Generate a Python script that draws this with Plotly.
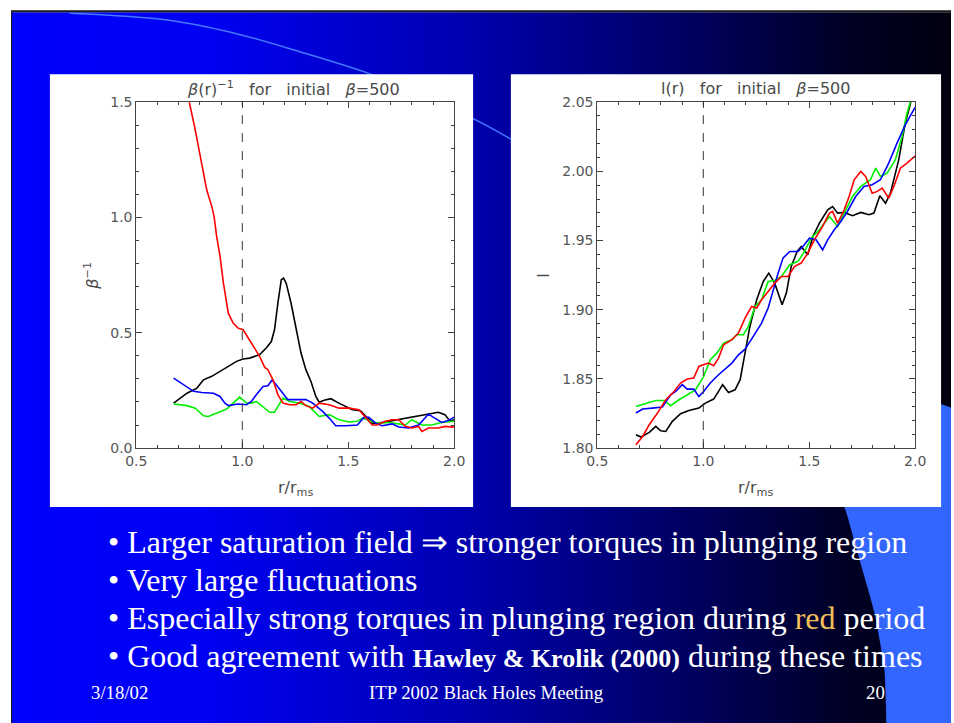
import plotly.graph_objects as go

OUT_W, OUT_H = 954, 723
# captured page region is [-8, OUT+8] scaled back to OUT size
SX, SY = OUT_W / (OUT_W + 16), OUT_H / (OUT_H + 16)
W, H = OUT_W + 8, OUT_H + 8  # figure size (body margin removed)

# ---------------- data: beta^-1 (left panel) ----------------
lb_red_x = [0.73, 0.75, 0.778, 0.809, 0.832, 0.856, 0.867, 0.879, 0.895, 0.911, 0.934, 0.957, 0.98, 1.004, 1.02,
            1.051, 1.082, 1.106, 1.121, 1.145, 1.168, 1.192, 1.223, 1.254, 1.277, 1.30, 1.332, 1.363, 1.41,
            1.457, 1.504, 1.55, 1.582, 1.613, 1.636, 1.675, 1.707, 1.738, 1.769, 1.80, 1.832, 1.847, 1.878,
            1.925, 1.956, 2.0]
lb_red_y = [1.62, 1.50, 1.38, 1.235, 1.12, 1.048, 1.004, 0.918, 0.831, 0.715, 0.585, 0.542, 0.52, 0.513, 0.49,
            0.44, 0.397, 0.35, 0.34, 0.296, 0.231, 0.195, 0.188, 0.188, 0.202, 0.184, 0.173, 0.195, 0.188,
            0.173, 0.173, 0.166, 0.13, 0.10, 0.10, 0.116, 0.123, 0.123, 0.094, 0.087, 0.094, 0.072, 0.087,
            0.087, 0.094, 0.091]

lb_black_x = [0.676, 0.739, 0.786, 0.817, 0.856, 0.895, 0.934, 0.973, 1.004, 1.035, 1.082, 1.113, 1.137, 1.152,
              1.168, 1.184, 1.195, 1.207, 1.23, 1.254, 1.277, 1.30, 1.324, 1.347, 1.363, 1.386, 1.418, 1.449,
              1.488, 1.519, 1.558, 1.582, 1.613, 1.644, 1.691, 1.738, 1.785, 1.832, 1.878, 1.925, 1.956, 1.98, 2.0]
lb_black_y = [0.195, 0.238, 0.26, 0.296, 0.311, 0.332, 0.354, 0.376, 0.386, 0.39, 0.405, 0.434, 0.462, 0.513,
              0.629, 0.73, 0.737, 0.715, 0.629, 0.513, 0.412, 0.34, 0.289, 0.224, 0.199, 0.207, 0.214, 0.198,
              0.18, 0.166, 0.162, 0.137, 0.108, 0.108, 0.116, 0.123, 0.13, 0.137, 0.145, 0.155, 0.145, 0.116, 0.123]

lb_blue_x = [0.676, 0.723, 0.77, 0.809, 0.864, 0.895, 0.918, 0.934, 0.98, 1.02, 1.043, 1.066, 1.098, 1.121, 1.141,
             1.16, 1.184, 1.215, 1.254, 1.30, 1.332, 1.379, 1.41, 1.441, 1.488, 1.543, 1.574, 1.597, 1.629, 1.66,
             1.707, 1.738, 1.785, 1.832, 1.878, 1.91, 1.941, 1.972, 2.0]
lb_blue_y = [0.303, 0.275, 0.246, 0.241, 0.238, 0.224, 0.195, 0.184, 0.191, 0.188, 0.202, 0.231, 0.267, 0.27,
             0.296, 0.275, 0.246, 0.21, 0.21, 0.21, 0.195, 0.159, 0.13, 0.097, 0.097, 0.10, 0.133, 0.133, 0.108,
             0.097, 0.105, 0.091, 0.087, 0.10, 0.147, 0.13, 0.111, 0.12, 0.134]

lb_green_x = [0.676, 0.739, 0.778, 0.817, 0.84, 0.879, 0.926, 0.957, 0.988, 1.02, 1.043, 1.066, 1.106, 1.129, 1.152,
              1.176, 1.192, 1.223, 1.269, 1.316, 1.363, 1.41, 1.457, 1.504, 1.543, 1.566, 1.605, 1.644, 1.691,
              1.738, 1.769, 1.80, 1.847, 1.894, 1.941, 2.0]
lb_green_y = [0.191, 0.184, 0.173, 0.14, 0.137, 0.152, 0.169, 0.195, 0.221, 0.195, 0.195, 0.202, 0.173, 0.155,
              0.155, 0.195, 0.217, 0.202, 0.195, 0.18, 0.137, 0.145, 0.123, 0.113, 0.116, 0.13, 0.116, 0.108,
              0.111, 0.105, 0.10, 0.123, 0.10, 0.10, 0.111, 0.116]

# ---------------- data: l(r) (right panel) ----------------
rl_black_x = [0.682, 0.706, 0.745, 0.776, 0.799, 0.823, 0.854, 0.893, 0.932, 0.979, 1.01, 1.049, 1.072, 1.091,
              1.119, 1.15, 1.174, 1.197, 1.22, 1.252, 1.283, 1.309, 1.337, 1.372, 1.392, 1.415, 1.443, 1.462,
              1.493, 1.517, 1.548, 1.587, 1.61, 1.634, 1.665, 1.704, 1.743, 1.782, 1.805, 1.833, 1.86, 1.883,
              1.922, 1.953, 1.984]
rl_black_y = [1.8096, 1.808, 1.8113, 1.8157, 1.8125, 1.812, 1.8193, 1.8248, 1.8272, 1.8289, 1.8325, 1.8354,
              1.841, 1.8458, 1.8402, 1.8421, 1.8494, 1.8686, 1.8879, 1.9072, 1.9204, 1.9264, 1.9192, 1.9036,
              1.912, 1.9313, 1.9421, 1.9457, 1.9397, 1.9529, 1.9626, 1.9722, 1.9746, 1.9698, 1.9703, 1.9679,
              1.9703, 1.9686, 1.9698, 1.9823, 1.977, 1.9842, 2.0083, 2.0348, 2.0529]

rl_red_x = [0.682, 0.714, 0.745, 0.784, 0.823, 0.862, 0.893, 0.924, 0.955, 0.979, 1.01, 1.025, 1.049, 1.072,
            1.096, 1.135, 1.166, 1.197, 1.228, 1.252, 1.275, 1.306, 1.337, 1.369, 1.4, 1.431, 1.462, 1.493,
            1.524, 1.563, 1.595, 1.61, 1.634, 1.665, 1.688, 1.712, 1.743, 1.766, 1.797, 1.821, 1.844, 1.875,
            1.899, 1.93, 1.961, 2.0]
rl_red_y = [1.8024, 1.8084, 1.8169, 1.8253, 1.8349, 1.8409, 1.847, 1.8499, 1.8506, 1.859, 1.8607, 1.8614,
            1.8595, 1.865, 1.8747, 1.8783, 1.8831, 1.8939, 1.9024, 1.9012, 1.9072, 1.9132, 1.9192, 1.924,
            1.924, 1.9313, 1.9337, 1.9409, 1.9505, 1.9602, 1.9698, 1.971, 1.9626, 1.9722, 1.9818, 1.9939,
            1.9999, 1.9963, 1.9842, 1.9855, 1.9879, 1.9806, 1.9891, 2.0023, 2.0059, 2.0112]

rl_green_x = [0.682, 0.729, 0.776, 0.815, 0.846, 0.885, 0.924, 0.963, 1.002, 1.033, 1.064, 1.096, 1.135, 1.158,
              1.189, 1.213, 1.244, 1.275, 1.306, 1.337, 1.369, 1.408, 1.447, 1.478, 1.509, 1.548, 1.595, 1.634,
              1.665, 1.704, 1.743, 1.789, 1.813, 1.836, 1.867, 1.906, 1.938, 1.961, 1.98]
rl_green_y = [1.8301, 1.8325, 1.8344, 1.8344, 1.8306, 1.8349, 1.8385, 1.8421, 1.8518, 1.8638, 1.8686, 1.8759,
              1.8783, 1.8819, 1.8819, 1.8879, 1.9024, 1.9072, 1.9204, 1.9211, 1.924, 1.9325, 1.9349, 1.9421,
              1.9517, 1.9578, 1.9674, 1.9602, 1.9698, 1.9818, 1.9891, 1.9939, 2.0023, 1.9963, 1.9987, 2.0083,
              2.0252, 2.042, 2.0517]

rl_blue_x = [0.682, 0.714, 0.76, 0.807, 0.846, 0.87, 0.901, 0.924, 0.955, 0.979, 1.002, 1.033, 1.072, 1.111,
             1.135, 1.166, 1.197, 1.236, 1.275, 1.306, 1.33, 1.353, 1.376, 1.408, 1.447, 1.47, 1.501, 1.532,
             1.563, 1.587, 1.618, 1.649, 1.68, 1.719, 1.758, 1.797, 1.836, 1.875, 1.914, 1.953, 2.0]
rl_blue_y = [1.8253, 1.8282, 1.8289, 1.8296, 1.8385, 1.8409, 1.8458, 1.8426, 1.8426, 1.8373, 1.8409, 1.847,
             1.853, 1.8578, 1.8614, 1.8674, 1.8715, 1.8807, 1.8903, 1.9012, 1.9144, 1.9264, 1.9373, 1.9421,
             1.9421, 1.9457, 1.9517, 1.9505, 1.9433, 1.9505, 1.9578, 1.9638, 1.971, 1.9818, 1.9891, 1.9903,
             1.9939, 2.0059, 2.0204, 2.0336, 2.0464]

x_ticks = [0.5, 1.0, 1.5, 2.0]
left_y_ticks = [0.0, 0.5, 1.0, 1.5]
right_y_ticks = [1.80, 1.85, 1.90, 1.95, 2.00, 2.05]

bullets = [
    "• Larger saturation field ⇒ stronger torques in plunging region",
    "• Very large fluctuations",
    "• Especially strong torques in plunging region during <span style='color:#F5C05A'>red</span> period",
    "• Good agreement with <b><span style='font-size:26px'>Hawley &amp; Krolik (2000)</span></b> during these times",
]
footer_date = "3/18/02"
footer_title = "ITP 2002 Black Holes Meeting"
footer_page = "20"

# ---------------- figure ----------------
fig = go.Figure()


def px(p):
    """screen x pixel -> paper fraction"""
    return (p / SX - 8) / W


def py(p):
    """screen y pixel -> paper fraction"""
    return 1 - (p / SY - 8) / H


bg = dict(xaxis="x", yaxis="y", hoverinfo="skip", showlegend=False, mode="lines")
# slide background gradient
fig.add_trace(go.Scatter(x=[8, 1000, 1000, 8, 8], y=[12, 12, 800, 800, 12], fill="toself",
                         line=dict(width=0),
                         fillgradient=dict(type="horizontal",
                                           colorscale=[[0, "rgb(0,0,255)"], [0.2, "rgb(0,0,242)"],
                                                       [0.46, "rgb(0,0,176)"], [0.7, "rgb(0,0,92)"],
                                                       [0.85, "rgb(0,0,36)"], [1, "rgb(0,0,6)"]]),
                         **bg))
# light blue arc
fig.add_trace(go.Scatter(x=[67, 167, 233, 300, 367, 430, 480, 511, 560, 620],
                         y=[13, 20, 33, 52, 73, 98, 122, 139, 168, 210],
                         line=dict(color="rgb(70,120,255)", width=1.5, shape="spline"), **bg))
# lower-right light blue shape
fig.add_trace(go.Scatter(x=[1000, 944, 900, 800, 820, 847, 860, 877, 887, 889, 890, 1000, 1000],
                         y=[430, 404, 390, 370, 460, 508, 553, 613, 670, 723, 800, 800, 430],
                         fill="toself", fillcolor="rgb(51,102,255)",
                         line=dict(width=0, shape="spline", smoothing=0.5), **bg))
# slide border
fig.add_trace(go.Scatter(x=[8, 8, 1000], y=[800, 11, 11], line=dict(color="#1a1a1a", width=2), **bg))
# white panels
fig.add_trace(go.Scatter(x=[47, 473, 473, 47, 47], y=[74, 74, 507, 507, 74], fill="toself",
                         fillcolor="white", line=dict(width=0), **bg))
fig.add_trace(go.Scatter(x=[511, 944, 944, 511, 511], y=[74, 74, 507, 507, 74], fill="toself",
                         fillcolor="white", line=dict(width=0), **bg))

LW = 1.6
for xs, ys, c in [(lb_black_x, lb_black_y, "black"), (lb_green_x, lb_green_y, "#00f000"),
                  (lb_blue_x, lb_blue_y, "#0000ff"), (lb_red_x, lb_red_y, "#ff0000")]:
    fig.add_trace(go.Scatter(x=xs, y=ys, mode="lines", line=dict(color=c, width=LW),
                             xaxis="x2", yaxis="y2", showlegend=False))
for xs, ys, c in [(rl_black_x, rl_black_y, "black"), (rl_green_x, rl_green_y, "#00f000"),
                  (rl_blue_x, rl_blue_y, "#0000ff"), (rl_red_x, rl_red_y, "#ff0000")]:
    fig.add_trace(go.Scatter(x=xs, y=ys, mode="lines", line=dict(color=c, width=LW),
                             xaxis="x3", yaxis="y3", showlegend=False))

axis_font = dict(family="DejaVu Sans, sans-serif", size=14, color="#555555")
common = dict(showline=True, linecolor="#444444", linewidth=1, mirror="allticks", ticks="inside",
              ticklen=6, tickcolor="#444444", tickwidth=1, showgrid=False, zeroline=False,
              tickfont=axis_font, fixedrange=True)

yd = [py(448), py(102)]
fig.update_layout(
    width=W, height=H, margin=dict(l=0, r=0, t=0, b=0),
    paper_bgcolor="white", plot_bgcolor="rgba(0,0,0,0)",
    xaxis=dict(domain=[0, 1], range=[8 * SX, (W + 8) * SX], visible=False, fixedrange=True),
    yaxis=dict(domain=[0, 1], range=[(H + 8) * SY, 8 * SY], visible=False, fixedrange=True),
    xaxis2=dict(domain=[px(134), px(454)], range=[0.5, 2.0], anchor="y2", tickvals=x_ticks,
                ticktext=[f"{v:.1f}" for v in x_ticks],
                minor=dict(dtick=0.1, tick0=0.5, ticks="inside", ticklen=3, tickcolor="#444444"), **common),
    yaxis2=dict(domain=yd, range=[0, 1.5], anchor="x2", tickvals=left_y_ticks,
                ticktext=[f"{v:.1f}" for v in left_y_ticks],
                minor=dict(dtick=0.1, tick0=0, ticks="inside", ticklen=3, tickcolor="#444444"), **common),
    xaxis3=dict(domain=[px(598), px(918)], range=[0.5, 2.0], anchor="y3", tickvals=x_ticks,
                ticktext=[f"{v:.1f}" for v in x_ticks],
                minor=dict(dtick=0.1, tick0=0.5, ticks="inside", ticklen=3, tickcolor="#444444"), **common),
    yaxis3=dict(domain=yd, range=[1.80, 2.05], anchor="x3", tickvals=right_y_ticks,
                ticktext=[f"{v:.2f}" for v in right_y_ticks],
                minor=dict(dtick=0.01, tick0=1.8, ticks="inside", ticklen=3, tickcolor="#444444"), **common),
)

# dashed r = r_ms lines
for xr, yr in [("x2", "y2 domain"), ("x3", "y3 domain")]:
    fig.add_shape(type="line", xref=xr, yref=yr, x0=1.0, x1=1.0, y0=0, y1=1,
                  line=dict(color="#333333", width=1, dash="dash"))

ann = []
tfont = dict(family="DejaVu Sans, sans-serif", size=16, color="#4a4a4a")
ann.append(dict(x=px(292), y=py(88), text="<i>β</i>(r)<sup>−1</sup>   for   initial   <i>β</i>=500", font=tfont))
ann.append(dict(x=px(757), y=py(88), text="l(r)   for   initial   <i>β</i>=500", font=tfont))
ann.append(dict(x=px(294), y=py(488), text="r/r<sub>ms</sub>", font=tfont))
ann.append(dict(x=px(757), y=py(488), text="r/r<sub>ms</sub>", font=tfont))
ann.append(dict(x=px(89), y=py(276), text="<i>β</i><sup>−1</sup>", font=tfont, textangle=-90))
ann.append(dict(x=px(543), y=py(276), text="l", font=tfont, textangle=-90))

bfont = dict(family="Liberation Serif, Times New Roman, serif", size=32, color="white")
for txt, yy in zip(bullets, [542, 580, 618, 656]):
    ann.append(dict(x=px(103), y=py(yy), text=txt, font=bfont, xanchor="left"))
ffont = dict(family="Liberation Serif, Times New Roman, serif", size=18.8, color="white")
ann.append(dict(x=px(117), y=py(692), text=footer_date, font=ffont))
ann.append(dict(x=px(486), y=py(692), text=footer_title, font=ffont))
ann.append(dict(x=px(878), y=py(692), text=footer_page, font=ffont))

for a in ann:
    a.setdefault("xanchor", "center")
    a.update(xref="paper", yref="paper", yanchor="middle", showarrow=False)
fig.update_layout(annotations=ann)

fig.write_html("out.html", config={"displayModeBar": False},
               post_script="document.body.style.margin='0';")
